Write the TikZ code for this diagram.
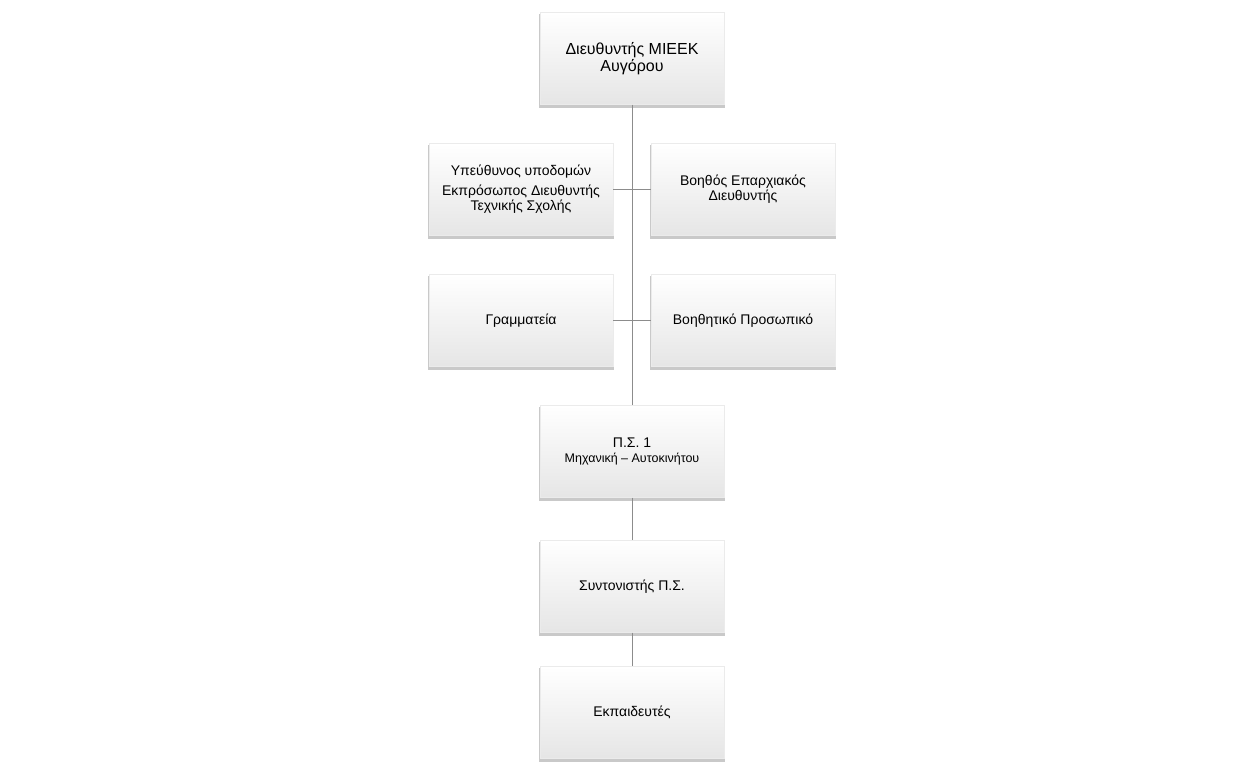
\documentclass[tikz,border=0pt]{standalone}
\usepackage{fontspec}
\setmainfont{Liberation Sans}
\usetikzlibrary{positioning, shadows}
\definecolor{linegray}{rgb}{0.55, 0.55, 0.55}
\definecolor{boxbottom}{rgb}{0.90, 0.90, 0.90}

\begin{document}
\begin{tikzpicture} [%
    x = 1pt,
    y = -1pt,
    node distance = 131pt and 111pt,
    on grid,
    every node/.style = {%
      font = \fontsize{14}{15}\selectfont },
    unit/.style = {%
      minimum width = 184pt,
      minimum height = 92pt,
      align = center,
      inner sep = 2pt,
      top color = white,
      bottom color = boxbottom,
      draw = black!8,
      line width = 0.4pt,
      drop shadow = {shadow xshift = 0pt, shadow yshift = -2.5pt,
        shadow scale = 1.012, opacity = 0.3, fill = black!70},
      text = black },
    link/.style = {%
      draw = linegray,
      line width = 1pt }
  ]

  \useasboundingbox (0,0) rectangle (1238,772);

  \node[unit, font=\fontsize{16}{17}\selectfont] (D) at (632,58.5)
    {Διευθυντής ΜΙΕΕΚ\\Αυγόρου};
  \node[unit] (Y) [below left=of D]
    {Υπεύθυνος υποδομών\\[5pt]Εκπρόσωπος Διευθυντής\\Τεχνικής Σχολής};
  \node[unit] (B) [below right=of D] {Βοηθός Επαρχιακός\\Διευθυντής};
  \node[unit] (G) [below=of Y] {Γραμματεία};
  \node[unit] (P) [below=of B] {Βοηθητικό Προσωπικό};
  \node[unit] (S) [below=393pt of D]
    {Π.Σ. 1\\{\fontsize{12.5}{14}\selectfont Μηχανική – Αυτοκινήτου}};
  \node[unit] (C) [below=135pt of S] {Συντονιστής Π.Σ.};
  \node[unit] (E) [below=126pt of C] {Εκπαιδευτές};

  \path[link]
  (D.south) -- (S.north)
  (Y.east) -- (B.west)
  (G.east) -- (P.west)
  (S.south) -- (C.north)
  (C.south) -- (E.north);

\end{tikzpicture}
\end{document}
